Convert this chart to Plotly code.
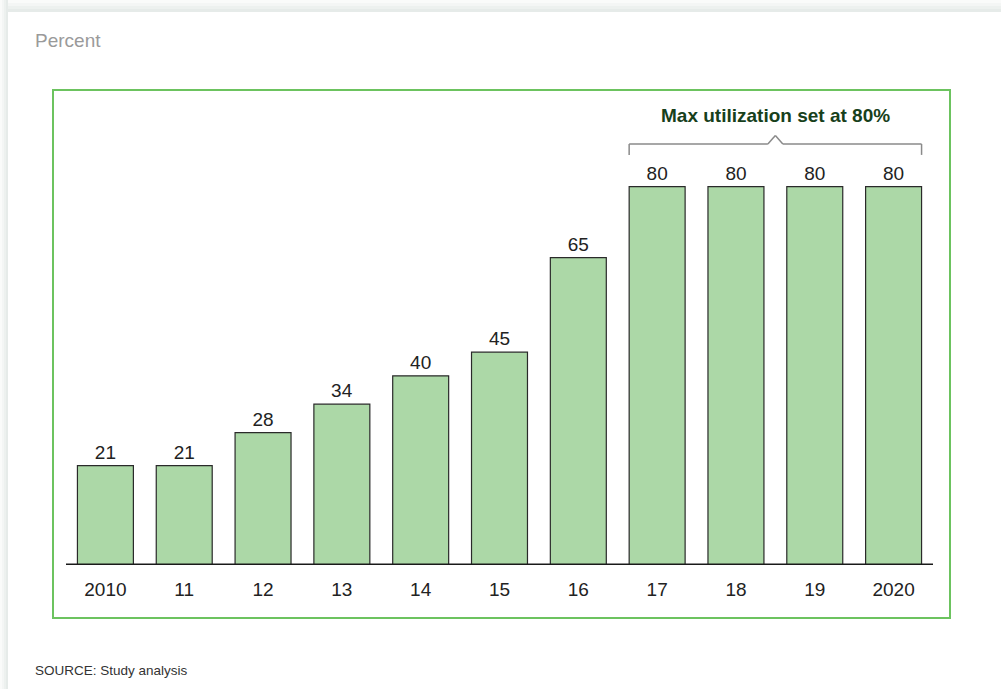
import plotly.graph_objects as go

years = ["2010", "11", "12", "13", "14", "15", "16", "17", "18", "19", "2020"]
utilization = [21, 21, 28, 34, 40, 45, 65, 80, 80, 80, 80]
bracket_title = "Max utilization set at 80%"

W, H = 1001, 689
font_family = "Arial, Liberation Sans, sans-serif"

fig = go.Figure()
fig.add_trace(go.Bar(
    x=list(range(len(years))), y=utilization,
    width=0.71,
    marker=dict(color="#acd8a7", line=dict(color="#2a2a2a", width=1.2)),
    text=[str(v) for v in utilization],
    textposition="outside",
    textfont=dict(size=19, color="#222222", family=font_family),
    cliponaxis=False,
    hoverinfo="skip",
))

layout_shapes = []
# card shadow at top and left edges
shadow = ["#e6ebe9", "#edf1ef", "#f4f6f5", "#fafbfa"]
for i, c in enumerate(shadow):
    top = 12 - 3 * i
    layout_shapes.append(dict(type="rect", xref="paper", yref="paper", layer="below",
                              x0=-0.1, x1=1.1, y0=1 + (92 - top) / 473, y1=1.3,
                              line=dict(width=0), fillcolor=c))
for i, c in enumerate(shadow):
    left = 8 - 2 * i
    layout_shapes.append(dict(type="rect", xref="paper", yref="paper", layer="below",
                              x0=-0.2, x1=(left - 66) / 867, y0=-0.5, y1=1.3,
                              line=dict(width=0), fillcolor=c))

# green frame
layout_shapes.append(dict(type="rect", xref="paper", yref="paper",
                          x0=(53 - 66) / 867, x1=(950 - 66) / 867,
                          y0=(565 - 618) / 473, y1=(565 - 90) / 473,
                          line=dict(color="#6cc35f", width=2)))
# baseline
layout_shapes.append(dict(type="line", xref="x", yref="y", x0=-0.5, x1=10.5, y0=0, y1=0,
                          line=dict(color="#1a1a1a", width=3)))

# bracket over the last four bars
bl, br = 7 - 0.355, 10 + 0.355
mid = (7 + 10) / 2
gray = dict(color="#8a8a8a", width=1.5)
layout_shapes += [
    dict(type="line", x0=bl, x1=bl, y0=86.7, y1=89, line=gray),
    dict(type="line", x0=br, x1=br, y0=86.7, y1=89, line=gray),
    dict(type="line", x0=bl, x1=mid - 0.095, y0=89, y1=89, line=gray),
    dict(type="line", x0=mid + 0.095, x1=br, y0=89, y1=89, line=gray),
    dict(type="line", x0=mid - 0.095, x1=mid, y0=89, y1=90.8, line=gray),
    dict(type="line", x0=mid, x1=mid + 0.095, y0=90.8, y1=89, line=gray),
]

fig.update_layout(
    width=W, height=H,
    margin=dict(l=66, r=68, t=92, b=124),
    paper_bgcolor="white", plot_bgcolor="white",
    showlegend=False,
    bargap=0.29,
    font=dict(family=font_family),
    xaxis=dict(range=[-0.5, 10.5], tickmode="array", tickvals=list(range(len(years))),
               ticktext=years, showgrid=False, zeroline=False, showline=False,
               ticks="", tickfont=dict(size=19, color="#222222"), ticklabelstandoff=11),
    yaxis=dict(range=[0, 100], visible=False),
    shapes=layout_shapes,
    annotations=[
        dict(text="Percent", xref="paper", yref="paper", x=(33 - 66) / 867, y=(565 - 40) / 473,
             xanchor="left", yanchor="middle", showarrow=False,
             font=dict(size=19, color="#9a9a9a")),
        dict(text="<b>" + bracket_title + "</b>", xref="x", yref="y", x=mid, y=95,
             xanchor="center", yanchor="middle", showarrow=False,
             font=dict(size=19, color="#17401b")),
        dict(text="SOURCE: Study analysis", xref="paper", yref="paper",
             x=(33 - 66) / 867, y=(565 - 670) / 473, xanchor="left", yanchor="middle",
             showarrow=False, font=dict(size=13.5, color="#333333")),
    ],
)

fig.write_html("out.html", config={"displayModeBar": False},
               post_script="document.body.style.margin='0';")
